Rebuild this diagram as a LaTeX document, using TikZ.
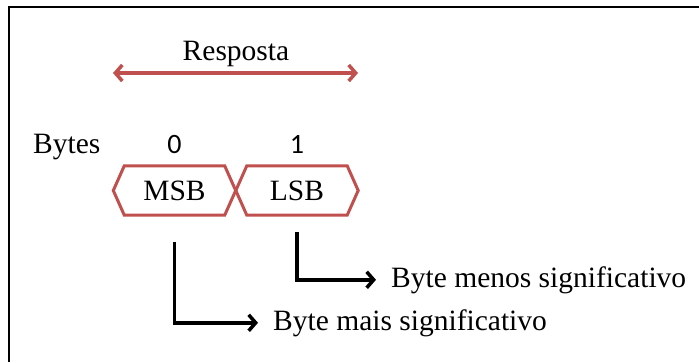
\documentclass[tikz,border=0pt]{standalone}
\usepackage{fontspec}
\setmainfont{Liberation Serif}
\newfontfamily\digitfont{Carlito}
\usetikzlibrary{arrows.meta}
\definecolor{hexred}{HTML}{C0504D}

% outline of a field: a box with pointed left and right ends
\newcommand\hexframe[1]{%
  \draw[hexline] (#1.north west) -- (#1.north east) -- ([xshift=11pt]#1.east)
    -- (#1.south east) -- (#1.south west) -- ([xshift=-11pt]#1.west) -- cycle;}

\begin{document}
\begin{tikzpicture}[x=1pt,y=-1pt,
  serif/.style={font=\fontsize{29.5}{32}\selectfont, inner sep=0pt},
  digit/.style={font=\digitfont\fontsize{28}{30}\selectfont, inner sep=0pt},
  field/.style={minimum width=100pt, minimum height=49pt, inner sep=0pt,
                font=\fontsize{29.5}{32}\selectfont},
  hexline/.style={draw=hexred, line width=3pt, line join=miter},
  pointer/.style={line width=3.5pt, -{Straight Barb[length=7pt,width=16pt]}},
  span/.style={hexred, line width=3.5pt,
               {Straight Barb[length=7pt,width=16pt]}-{Straight Barb[length=7pt,width=16pt]}}
]
\useasboundingbox (0,0) rectangle (699,362);
\fill[white] (0,0) rectangle (699,362);

% frame (top and left sides)
\draw[line width=2.5pt] (699,7) -- (9,7) -- (9,362);

% response span
\node[serif, anchor=base] (resp) at (236,60) {Resposta};
\coordinate (spanL) at (113,73);
\coordinate (spanR) at (358,73);
\draw[span] (spanL) -- (spanR);

% byte indices
\node[serif, anchor=base west] (bytes) at (33,153) {Bytes};
\node[digit, anchor=base] (d0) at (174.5,153) {0};
\node[digit, anchor=base] (d1) at (297,153) {1};

% fields
\node[field] (msb) at (174.5,190.5) {MSB};
\node[field] (lsb) at (297,190.5) {LSB};
\hexframe{msb}
\hexframe{lsb}

% explanations
\node[serif, anchor=base west] (menos) at (391,287) {Byte menos significativo};
\node[serif, anchor=base west] (mais) at (273,330) {Byte mais significativo};

\draw[pointer] ([yshift=-17pt]lsb.south) |- ([xshift=-15pt]menos.west);
\draw[pointer] ([yshift=-27pt]msb.south) |- ([xshift=-15pt]mais.west);
\end{tikzpicture}
\end{document}
